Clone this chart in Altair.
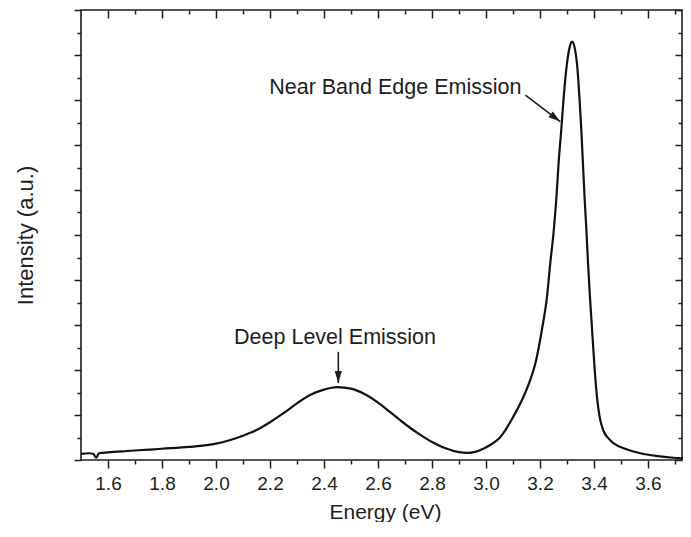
import altair as alt
import pandas as pd

# ---- spectrum ----
energy = [1.50, 1.53, 1.545, 1.556, 1.567, 1.60, 1.67, 1.75, 1.80, 1.90, 1.95, 2.00, 2.05,
          2.10, 2.15, 2.20, 2.25, 2.30, 2.35, 2.40, 2.45, 2.50, 2.55, 2.60, 2.65, 2.70,
          2.75, 2.80, 2.85, 2.90, 2.93, 2.96, 2.99, 3.02, 3.05, 3.072, 3.10, 3.139, 3.164,
          3.183, 3.207, 3.226, 3.238, 3.251, 3.261, 3.269, 3.279, 3.288, 3.300, 3.310,
          3.319, 3.328, 3.337, 3.346, 3.353, 3.359, 3.365, 3.372, 3.378, 3.385, 3.393,
          3.401, 3.411, 3.422, 3.435, 3.452, 3.472, 3.52, 3.572, 3.63, 3.694, 3.74]
intensity = [0.27, 0.30, 0.28, 0.10, 0.30, 0.34, 0.40, 0.46, 0.50, 0.58, 0.64, 0.73, 0.88,
             1.08, 1.33, 1.68, 2.08, 2.52, 2.90, 3.13, 3.24, 3.17, 2.93, 2.55, 2.08, 1.60,
             1.17, 0.80, 0.52, 0.35, 0.32, 0.36, 0.50, 0.70, 0.98, 1.33, 1.90, 2.81, 3.56,
             4.30, 5.78, 7.26, 8.74, 10.2, 11.7, 13.2, 14.7, 16.15, 17.63, 18.35,
             18.59, 18.35, 17.63, 16.15, 14.7, 13.2, 11.7, 10.2, 8.74, 7.26, 5.78,
             4.30, 2.81, 1.85, 1.30, 0.98, 0.75, 0.48, 0.30, 0.18, 0.10, 0.07]

# ---- axes ----
x_tick_values = [1.6, 1.7, 1.8, 1.9, 2.0, 2.1, 2.2, 2.3, 2.4, 2.5, 2.6, 2.7, 2.8, 2.9,
                 3.0, 3.1, 3.2, 3.3, 3.4, 3.5, 3.6, 3.7]
y_tick_values = [0, 1, 2, 3, 4, 5, 6, 7, 8, 9, 10, 11, 12, 13, 14, 15, 16, 17, 18, 19, 20]
x_domain = [1.5, 3.726]
y_domain = [0, 20]

# ---- annotations ----
ann_text = ["Near Band Edge Emission", "Deep Level Emission"]
ann_x = [2.664, 2.441]
ann_y = [16.53, 5.42]
arrow_x = [3.146, 2.453]
arrow_y = [16.22, 4.81]
arrow_x2 = [3.275, 2.453]
arrow_y2 = [15.04, 3.42]
arrow_angle = [127, 180]

spec = pd.DataFrame({"E": energy, "I": intensity})
ann = pd.DataFrame({"t": ann_text, "x": ann_x, "y": ann_y})
arr = pd.DataFrame({"x": arrow_x, "y": arrow_y, "x2": arrow_x2, "y2": arrow_y2, "a": arrow_angle})

FONT = "Liberation Sans"
INK = "#1e1e1e"
xs = alt.Scale(domain=x_domain, nice=False, zero=False)
ys = alt.Scale(domain=y_domain, nice=False, zero=False)

x_major = {"condition": {"test": "round(datum.value*10) % 2 == 0", "value": 8}, "value": 4}
y_major = {"condition": {"test": "round(datum.value) % 2 == 0", "value": 7}, "value": 4}

x_axis = alt.Axis(values=x_tick_values, tickSize=x_major,
                  labelExpr="round(datum.value*10) % 2 == 0 ? format(datum.value, '.1f') : ''",
                  labelFont=FONT, labelFontSize=19, labelColor=INK, labelPadding=6, labelOverlap=False,
                  labelFlush=False, grid=False, domain=False, tickColor=INK, tickWidth=1.5,
                  title="Energy (eV)", titleFont=FONT, titleFontSize=21, titleFontWeight="normal",
                  titleColor=INK, titleX=304, titleY=52, titleBaseline="middle", titleAlign="center")
y_axis = alt.Axis(values=y_tick_values, tickSize=y_major, labels=False, grid=False, domain=False,
                  tickColor=INK, tickWidth=1.5,
                  title="Intensity (a.u.)", titleFont=FONT, titleFontSize=22, titleFontWeight="normal",
                  titleColor=INK, titleX=-56, titleY=225, titleBaseline="middle", titleAlign="center",
                  titleAngle=270)

x_axis_top = alt.Axis(orient="bottom", offset=-450, values=x_tick_values, tickSize=x_major, labels=False,
                      grid=False, domain=False, tickColor=INK, tickWidth=1.5, title=None)
y_axis_right = alt.Axis(orient="left", offset=-601, values=y_tick_values, tickSize=y_major, labels=False,
                        grid=False, domain=False, tickColor=INK, tickWidth=1.5, title=None)

line = alt.Chart(spec).mark_line(color="#111111", strokeWidth=2.2, interpolate="monotone").encode(
    x=alt.X("E:Q", scale=xs, axis=x_axis),
    y=alt.Y("I:Q", scale=ys, axis=y_axis),
)
line2 = alt.Chart(spec).mark_line(opacity=0).encode(
    x=alt.X("E:Q", scale=xs, axis=x_axis_top),
    y=alt.Y("I:Q", scale=ys, axis=y_axis_right),
)
texts = alt.Chart(ann).mark_text(font=FONT, fontSize=21.5, color=INK, align="center", baseline="middle").encode(
    x=alt.X("x:Q", scale=xs, axis=None),
    y=alt.Y("y:Q", scale=ys, axis=None),
    text="t:N",
)
rules = alt.Chart(arr).mark_rule(color=INK, strokeWidth=1.6).encode(
    x=alt.X("x:Q", scale=xs, axis=None),
    y=alt.Y("y:Q", scale=ys, axis=None),
    x2="x2:Q",
    y2="y2:Q",
)
heads = alt.Chart(arr).mark_point(shape="M0,0L-0.6,2L0.6,2Z", filled=True, color=INK, opacity=1, size=144).encode(
    x=alt.X("x2:Q", scale=xs, axis=None),
    y=alt.Y("y2:Q", scale=ys, axis=None),
    angle=alt.Angle("a:Q", scale=None),
)

chart = alt.layer(line, line2, rules, heads, texts).resolve_axis(x="independent", y="independent").properties(
    width=601, height=450,
    autosize=alt.AutoSizeParams(type="none"),
    padding={"left": 73, "top": 2, "right": 1, "bottom": 62},
    background="white",
).configure_view(stroke=INK, strokeWidth=1.6)

chart.save("out.html", embed_options={"renderer": "svg", "actions": False})
